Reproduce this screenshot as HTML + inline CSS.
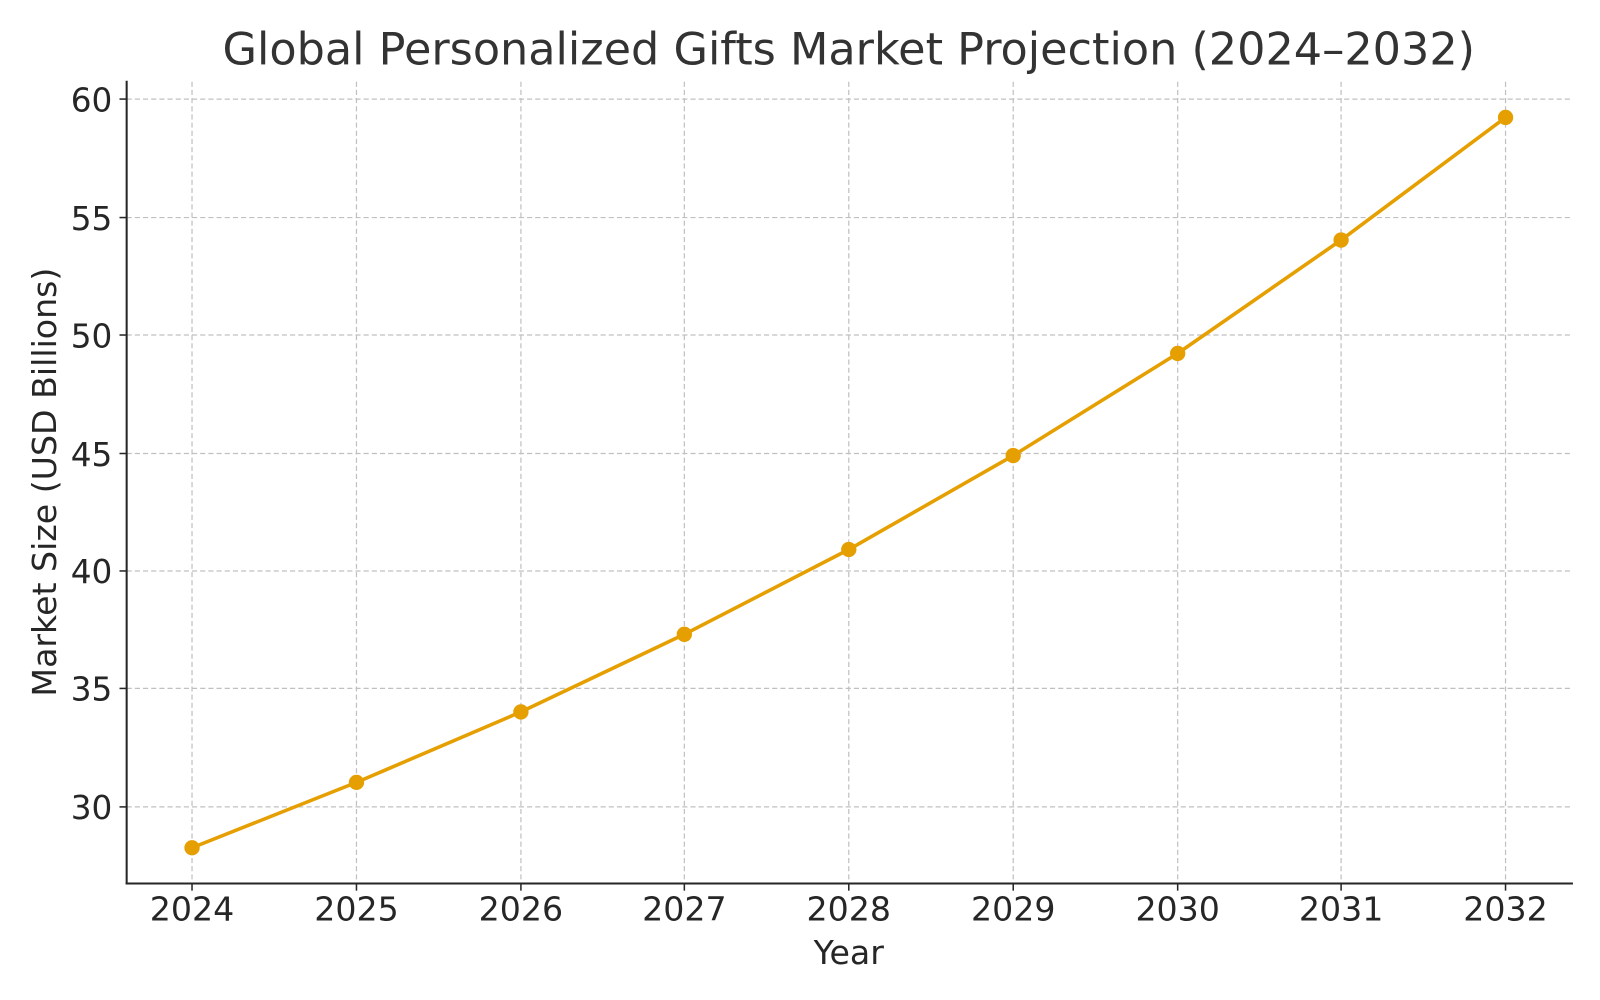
<!DOCTYPE html>
<html><head><style>body{margin:0;background:#fff}svg{display:block}</style></head><body>
<svg width="1600" height="1000" xmlns="http://www.w3.org/2000/svg" font-family="DejaVu Sans, Liberation Sans, sans-serif" fill="#262626">
<rect width="1600" height="1000" fill="#fff"/>
<g transform="scale(1.0214)">
<g stroke="#c0c0c0" stroke-width="1.2" stroke-dasharray="5,3">
<line x1="124" x2="1540" y1="97" y2="97"/><line x1="124" x2="1540" y1="213" y2="213"/><line x1="124" x2="1540" y1="328" y2="328"/><line x1="124" x2="1540" y1="444" y2="444"/><line x1="124" x2="1540" y1="559" y2="559"/><line x1="124" x2="1540" y1="674" y2="674"/><line x1="124" x2="1540" y1="790" y2="790"/>
<line x1="188" x2="188" y1="80" y2="865"/><line x1="349" x2="349" y1="80" y2="865"/><line x1="510" x2="510" y1="80" y2="865"/><line x1="670" x2="670" y1="80" y2="865"/><line x1="831" x2="831" y1="80" y2="865"/><line x1="992" x2="992" y1="80" y2="865"/><line x1="1153" x2="1153" y1="80" y2="865"/><line x1="1313" x2="1313" y1="80" y2="865"/><line x1="1474" x2="1474" y1="80" y2="865"/>
</g>
<g stroke="#262626" stroke-width="2"><line x1="124" y1="79" x2="124" y2="866"/><line x1="123" y1="865" x2="1540" y2="865"/></g>
<g stroke="#262626" stroke-width="1.5">
<line x1="117" x2="124" y1="97" y2="97"/><line x1="117" x2="124" y1="213" y2="213"/><line x1="117" x2="124" y1="328" y2="328"/><line x1="117" x2="124" y1="444" y2="444"/><line x1="117" x2="124" y1="559" y2="559"/><line x1="117" x2="124" y1="674" y2="674"/><line x1="117" x2="124" y1="790" y2="790"/>
<line y1="865" y2="872" x1="188" x2="188"/><line y1="865" y2="872" x1="349" x2="349"/><line y1="865" y2="872" x1="510" x2="510"/><line y1="865" y2="872" x1="670" x2="670"/><line y1="865" y2="872" x1="831" x2="831"/><line y1="865" y2="872" x1="992" x2="992"/><line y1="865" y2="872" x1="1153" x2="1153"/><line y1="865" y2="872" x1="1313" x2="1313"/><line y1="865" y2="872" x1="1474" x2="1474"/>
</g>
<g font-size="32" text-anchor="end">
<text x="110" y="109">60</text><text x="110" y="225">55</text><text x="110" y="340">50</text><text x="110" y="456">45</text><text x="110" y="571">40</text><text x="110" y="686">35</text><text x="110" y="802">30</text>
</g>
<g font-size="32.5" text-anchor="middle">
<text x="188" y="901">2024</text><text x="349" y="901">2025</text><text x="510" y="901">2026</text><text x="670" y="901">2027</text><text x="831" y="901">2028</text><text x="992" y="901">2029</text><text x="1153" y="901">2030</text><text x="1313" y="901">2031</text><text x="1474" y="901">2032</text>
<text x="831" y="944">Year</text>
<text transform="translate(55,472) rotate(-90)">Market Size (USD Billions)</text>
<text x="831" y="63" font-size="43.6" fill="#333">Global Personalized Gifts Market Projection (2024–2032)</text>
</g>
<polyline fill="none" stroke="#e69f00" stroke-width="3.5" stroke-linejoin="round" points="188,830 349,766 510,697 670,621 831,538 992,446 1153,346 1313,235 1474,115"/>
<g fill="#e69f00">
<circle cx="188" cy="830" r="7.5"/><circle cx="349" cy="766" r="7.5"/><circle cx="510" cy="697" r="7.5"/><circle cx="670" cy="621" r="7.5"/><circle cx="831" cy="538" r="7.5"/><circle cx="992" cy="446" r="7.5"/><circle cx="1153" cy="346" r="7.5"/><circle cx="1313" cy="235" r="7.5"/><circle cx="1474" cy="115" r="7.5"/>
</g>
</g>
</svg>
</body></html>
